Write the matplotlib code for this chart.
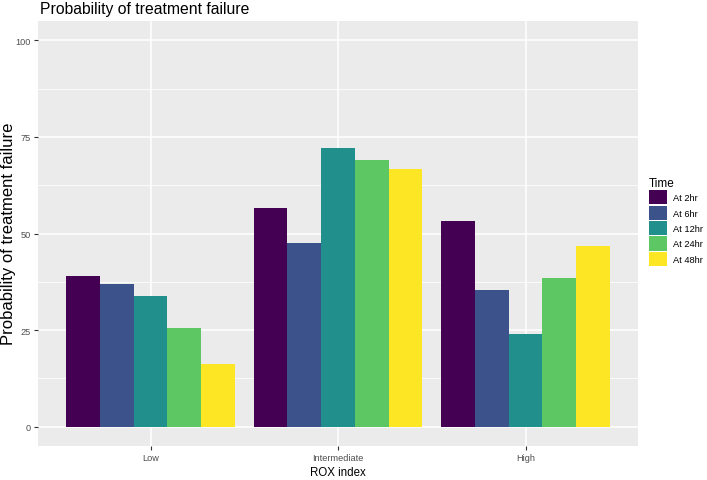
import numpy as np
import matplotlib
matplotlib.use("Agg")
import matplotlib.pyplot as plt
from matplotlib.patches import Patch

# data
groups = ["Low", "Intermediate", "High"]
times = ["At 2hr", "At 6hr", "At 12hr", "At 24hr", "At 48hr"]
at_2hr = [39.1, 56.6, 53.3]
at_6hr = [37.0, 47.5, 35.5]
at_12hr = [33.9, 72.1, 24.1]
at_24hr = [25.5, 69.1, 38.5]
at_48hr = [16.3, 66.7, 46.7]
colors = ["#440154", "#3B528B", "#21908C", "#5DC863", "#FDE725"]

series = [at_2hr, at_6hr, at_12hr, at_24hr, at_48hr]

plt.rcParams["font.family"] = ["Liberation Sans", "DejaVu Sans"]

W, H = 707, 481
fig = plt.figure(figsize=(W / 100, H / 100), dpi=100)
# panel: x 38..638 px, y 22..447 px
ax = fig.add_axes([38 / W, 1 - 447 / H, 600 / W, 425 / H])
ax.set_facecolor("#EBEBEB")

x = np.arange(1, len(groups) + 1)
w = 0.9 / len(times)
for i, (vals, col) in enumerate(zip(series, colors)):
    ax.bar(x - 0.45 + w * (i + 0.5), vals, width=w, color=col, zorder=3,
           label=times[i])

ax.set_xlim(0.4, 3.6)
ax.set_ylim(-5, 105)
ax.set_xticks(x)
ax.set_xticklabels(groups)
ax.set_yticks([0, 25, 50, 75, 100])
ax.set_yticks([12.5, 37.5, 62.5, 87.5], minor=True)
ax.grid(True, which="major", color="white", lw=1.1, zorder=0)
ax.grid(True, which="minor", axis="y", color="white", lw=0.55, zorder=0)
for s in ax.spines.values():
    s.set_visible(False)
ax.tick_params(axis="both", which="major", length=3, color="#333333",
               labelsize=6.6, labelcolor="#4D4D4D", pad=2)
ax.tick_params(axis="both", which="minor", length=0)

ax.set_xlabel("ROX index", fontsize=8.3, labelpad=3)
fig.text(9 / W, 1 - 234 / H, "Probability of treatment failure",
         rotation=90, ha="center", va="center", fontsize=12)
fig.text(40 / W, 1 - 2 / H, "Probability of treatment failure",
         ha="left", va="top", fontsize=11.3)

# legend, vertically centred on the panel like ggplot
handles = [Patch(facecolor=c, edgecolor="none") for c in colors]
leg = fig.legend(handles, times, title="Time", loc="upper left",
                 bbox_to_anchor=(649 / W, 1 - 178 / H), frameon=False,
                 fontsize=6.7, title_fontsize=8.5, handlelength=1.95,
                 handleheight=1.95, handletextpad=0.65, labelspacing=0.14,
                 borderpad=0, borderaxespad=0)
leg._legend_box.align = "left"

fig.savefig("out.png", dpi=100)
